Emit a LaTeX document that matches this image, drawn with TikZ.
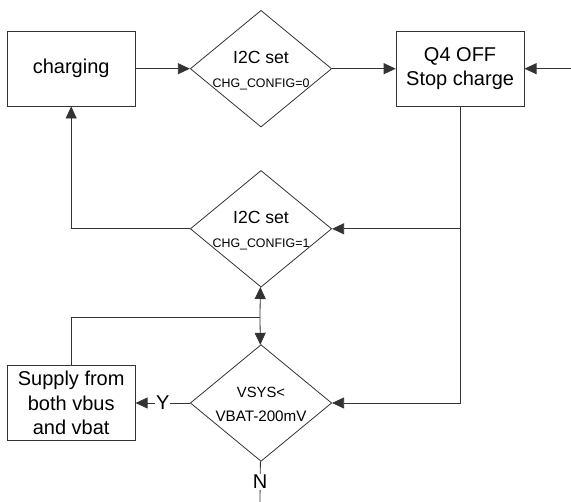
\documentclass[tikz,border=0pt]{standalone}
\usepackage{fontspec}
\setmainfont{Liberation Sans}
\usetikzlibrary{positioning, arrows.meta, shapes.geometric}
\newcommand{\dtext}[2]{\makebox[0pt]{\raisebox{5.2pt}[0pt][0pt]{#1}}\makebox[0pt]{\raisebox{-19pt}[0pt][0pt]{#2}}}

\begin{document}
\begin{tikzpicture}[
        x=1pt, y=-1pt,
        node distance=50pt,
        box/.style={draw=black!80, rectangle, line width=0.8pt, align=center, minimum width=128pt, minimum height=74.7pt, inner sep=1pt, font=\fontsize{20}{24.5}\selectfont},
        decision/.style={draw=black!80, diamond, line width=0.8pt, minimum width=141.4pt, minimum height=116.7pt, inner sep=0pt},
        tag/.style={fill=white, inner sep=1pt, font=\fontsize{20}{20}\selectfont},
        arrow/.style={-{Triangle[length=12pt, width=11pt]}, line width=0.8pt, draw=black!80}
    ]
    \useasboundingbox (0,0) rectangle (571,502);

    % 1. Top row
    \node[box] (charging) at (71.2,68.7) {charging};
    \node[decision] (cfg0) [right=54.3pt of charging] {\dtext{\fontsize{17.6}{18}\selectfont I2C set}{\fontsize{12.4}{13}\selectfont CHG\_CONFIG=0}};
    \node[box] (stop) [right=63.6pt of cfg0] {Q4 OFF\\Stop charge};

    % 2. Middle decision
    \node[decision] (cfg1) [below=42.6pt of cfg0] {\dtext{\fontsize{17.6}{18}\selectfont I2C set}{\fontsize{12.4}{13}\selectfont CHG\_CONFIG=1}};

    % 3. Bottom row
    \node[decision] (vsys) [below=56.7pt of cfg1] {\dtext{\fontsize{14.8}{15}\selectfont VSYS<}{\fontsize{15.2}{16}\selectfont VBAT-200mV}};
    \node[box] (supply) at (charging |- vsys) {Supply from\\both vbus\\and vbat};

    % Free ends and branch points
    \coordinate (feed) at (571,68.7);
    \coordinate (split) at (stop.south |- cfg1.east);
    \coordinate (fork) at (260,317.3);
    \coordinate (exit) at (260,502);

    % Connectors
    \draw[arrow] (charging) -- (cfg0);
    \draw[arrow] (cfg0) -- (stop);
    \draw[arrow] (feed) -- (stop);
    \draw[arrow] (stop) |- (vsys);
    \draw[arrow] (split) -- (cfg1);
    \draw[arrow] (cfg1) -| (charging);
    \draw[arrow] (fork) -- (cfg1);
    \draw[arrow] (fork) -- (vsys);
    \draw[draw=black!80, line width=0.8pt] (fork) -| (supply);
    \draw[arrow] (vsys) -- node[tag] {Y} (supply);
    \draw[draw=black!80, line width=0.8pt] (vsys) -- node[tag] {N} (exit);

\end{tikzpicture}
\end{document}
